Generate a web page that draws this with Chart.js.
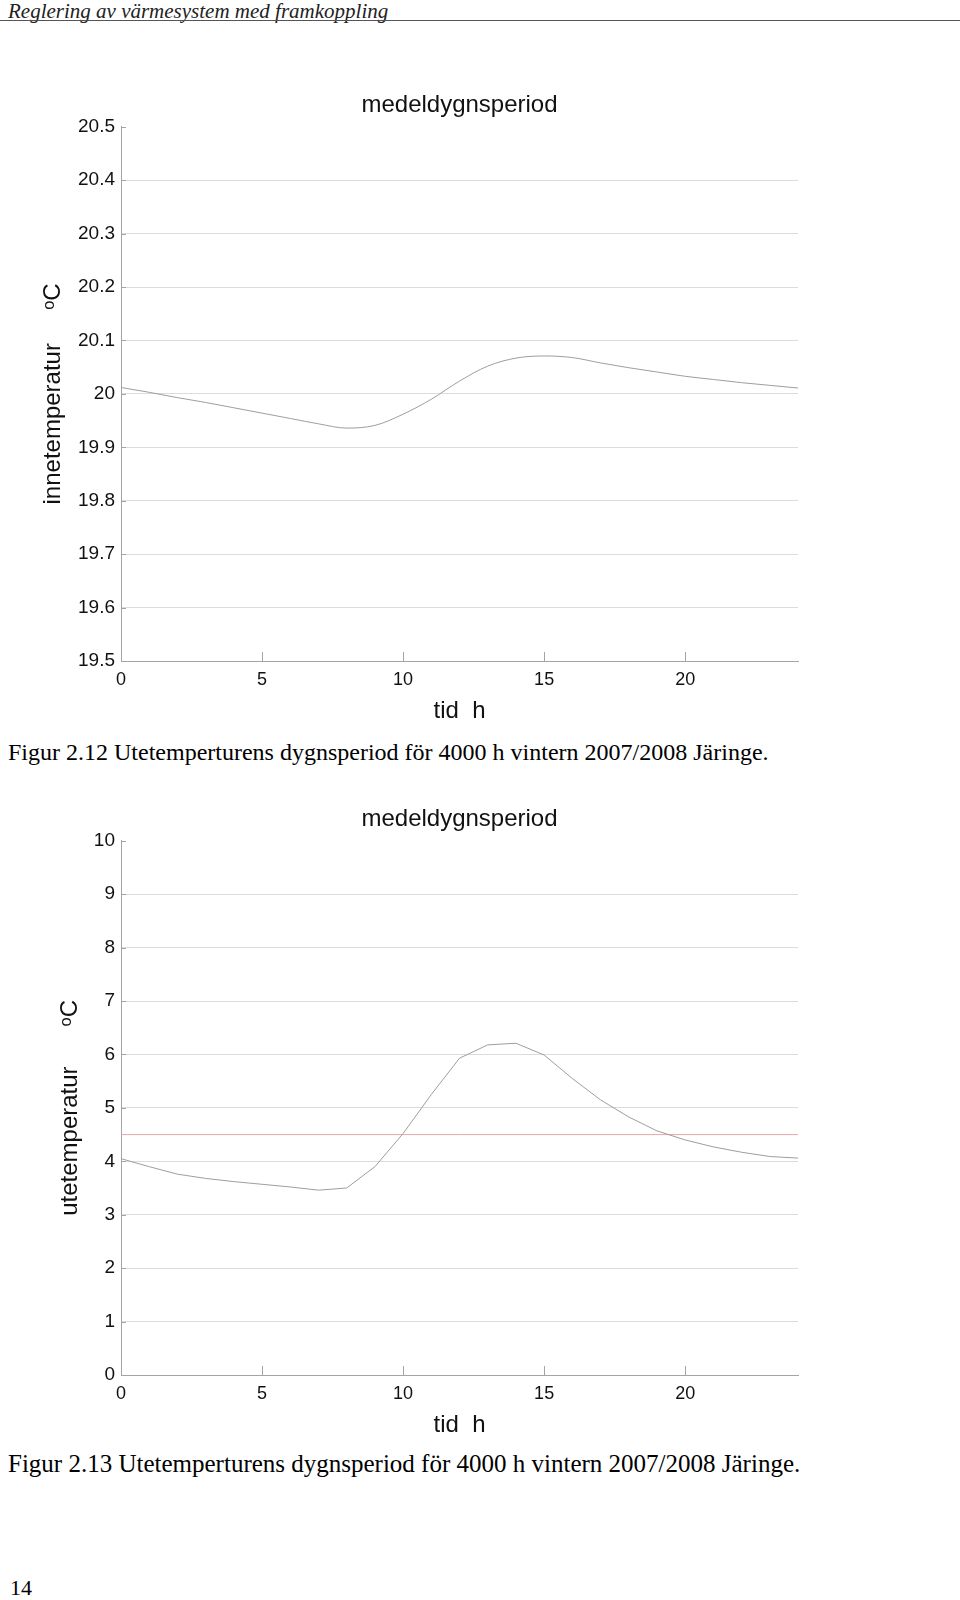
<!DOCTYPE html>
<html lang="sv">
<head>
    <meta charset="UTF-8">
    <title>Utetemperaturens dygnsperiod</title>
    <script src="https://cdn.jsdelivr.net/npm/chart.js"></script>
    <style>
        body {
            margin: 0;
            width: 960px;
            height: 1600px;
            background: #fff;
            position: relative;
            overflow: hidden;
            font-family: "Liberation Sans", Arial, sans-serif;
        }
        .header {
            position: absolute;
            left: 8px;
            top: 0;
            line-height: 22px;
            font-family: "Liberation Serif", "Times New Roman", serif;
            font-style: italic;
            font-size: 21px;
            color: #222;
        }
        .rule {
            position: absolute;
            left: 0;
            top: 20px;
            width: 960px;
            height: 1px;
            background: #555;
        }
        canvas {
            position: absolute;
            left: 0;
        }
        .caption {
            position: absolute;
            left: 8px;
            line-height: 28px;
            font-family: "Liberation Serif", "Times New Roman", serif;
            color: #000;
            white-space: nowrap;
        }
        .page {
            position: absolute;
            left: 10px;
            top: 1575px;
            line-height: 26px;
            font-family: "Liberation Serif", "Times New Roman", serif;
            font-size: 22px;
        }
    </style>
</head>
<body>
    <div class="header">Reglering av värmesystem med framkoppling</div>
    <div class="rule"></div>

    <canvas id="indoorChart" width="960" height="646" style="top:80px"></canvas>
    <div class="caption" style="top:738px; font-size:24px">Figur 2.12 Utetemperturens dygnsperiod för 4000 h vintern 2007/2008 Järinge.</div>

    <canvas id="outdoorChart" width="960" height="646" style="top:794px"></canvas>
    <div class="caption" style="top:1450px; font-size:25px">Figur 2.13 Utetemperturens dygnsperiod för 4000 h vintern 2007/2008 Järinge.</div>

    <div class="page">14</div>

    <script>
        // hour of day
        const hours = [0, 1, 2, 3, 4, 5, 6, 7, 8, 9, 10, 11, 12, 13, 14, 15, 16, 17, 18, 19, 20, 21, 22, 23, 24];
        // innetemperatur, degC
        const indoorTemp = [20.012, 20.003, 19.993, 19.984, 19.974, 19.964, 19.954, 19.944, 19.936, 19.941,
                            19.962, 19.990, 20.024, 20.052, 20.067, 20.071, 20.068, 20.058, 20.049, 20.041,
                            20.033, 20.027, 20.021, 20.016, 20.011];
        // utetemperatur, degC
        const outdoorTemp = [4.05, 3.90, 3.76, 3.68, 3.62, 3.57, 3.52, 3.46, 3.50, 3.90,
                             4.52, 5.25, 5.93, 6.18, 6.21, 5.99, 5.55, 5.15, 4.83, 4.57,
                             4.40, 4.27, 4.17, 4.09, 4.06];
        const outdoorMean = 4.5;

        const xTicks = [0, 5, 10, 15, 20];
        const indoorTicks = [19.5, 19.6, 19.7, 19.8, 19.9, 20.0, 20.1, 20.2, 20.3, 20.4, 20.5];
        const outdoorTicks = [0, 1, 2, 3, 4, 5, 6, 7, 8, 9, 10];

        const axisColor = '#a4a4a4';
        const gridColor = '#dedcd4';
        const lineColor = '#9e9e9e';
        const meanColor = '#e8a4aa';

        Chart.defaults.font.family = "'Liberation Sans', Arial, sans-serif";
        Chart.defaults.color = '#111';

        // small tick marks drawn inwards from the axes
        const tickStubs = {
            id: 'tickStubs',
            afterDraw(chart) {
                const { ctx, chartArea, scales: { x, y } } = chart;
                ctx.save();
                ctx.strokeStyle = axisColor;
                ctx.lineWidth = 1;
                ctx.beginPath();
                x.ticks.forEach(t => {
                    if (t.value === x.min) return;
                    const px = Math.round(x.getPixelForValue(t.value)) + 0.5;
                    ctx.moveTo(px, chartArea.bottom);
                    ctx.lineTo(px, chartArea.bottom - 9);
                });
                y.ticks.forEach(t => {
                    const py = Math.round(y.getPixelForValue(t.value)) + 0.5;
                    ctx.moveTo(chartArea.left, py);
                    ctx.lineTo(chartArea.left + 5, py);
                });
                ctx.stroke();
                ctx.restore();
            }
        };

        function makeChart(id, datasets, yTicks, yTitle, yTitlePad) {
            const yMin = yTicks[0];
            const yMax = yTicks[yTicks.length - 1];
            return new Chart(document.getElementById(id), {
                type: 'line',
                data: { datasets: datasets },
                plugins: [tickStubs],
                options: {
                    responsive: false,
                    animation: false,
                    devicePixelRatio: 1,
                    layout: { padding: { left: 0, right: 162, top: 0, bottom: 0 } },
                    plugins: {
                        legend: { display: false },
                        tooltip: { enabled: false },
                        title: {
                            display: true,
                            text: 'medeldygnsperiod',
                            fullSize: false,
                            font: { size: 24, weight: 'normal' },
                            color: '#111',
                            padding: { top: 11, bottom: 7 }
                        }
                    },
                    scales: {
                        x: {
                            type: 'linear',
                            min: 0,
                            max: 24,
                            afterBuildTicks: s => { s.ticks = xTicks.map(v => ({ value: v })); },
                            afterFit: s => { s.height = 65; },
                            grid: { display: false, drawTicks: false },
                            border: { display: true, color: axisColor, width: 1 },
                            ticks: { padding: 8, font: { size: 18 }, maxRotation: 0, autoSkip: false },
                            title: { display: true, text: 'tid  h', font: { size: 24 }, padding: 0 }
                        },
                        y: {
                            min: yMin,
                            max: yMax,
                            afterBuildTicks: s => { s.ticks = yTicks.map(v => ({ value: v })); },
                            afterFit: s => { s.width = 121; },
                            grid: {
                                drawTicks: false,
                                color: ctx => (ctx.tick && ctx.tick.value === yMax) ? 'rgba(0,0,0,0)' : gridColor
                            },
                            border: { display: true, color: axisColor, width: 1 },
                            ticks: {
                                padding: 6,
                                font: { size: 19 },
                                autoSkip: false,
                                callback: v => String(Number(v.toFixed(1)))
                            },
                            title: {
                                display: true,
                                text: yTitle,
                                font: { size: 24 },
                                padding: { top: yTitlePad, bottom: 0 }
                            }
                        }
                    }
                }
            });
        }

        makeChart('indoorChart', [{
            data: hours.map((h, i) => ({ x: h, y: indoorTemp[i] })),
            borderColor: lineColor,
            borderWidth: 1,
            pointRadius: 0,
            cubicInterpolationMode: 'monotone'
        }], indoorTicks, 'innetemperatur     \u1D52C', 39);

        makeChart('outdoorChart', [{
            data: hours.map((h, i) => ({ x: h, y: outdoorTemp[i] })),
            borderColor: lineColor,
            borderWidth: 1,
            pointRadius: 0,
            tension: 0
        }, {
            data: [{ x: hours[0], y: outdoorMean }, { x: hours[hours.length - 1], y: outdoorMean }],
            borderColor: meanColor,
            borderWidth: 1,
            pointRadius: 0
        }], outdoorTicks, 'utetemperatur      \u1D52C', 56);
    </script>
</body>
</html>
